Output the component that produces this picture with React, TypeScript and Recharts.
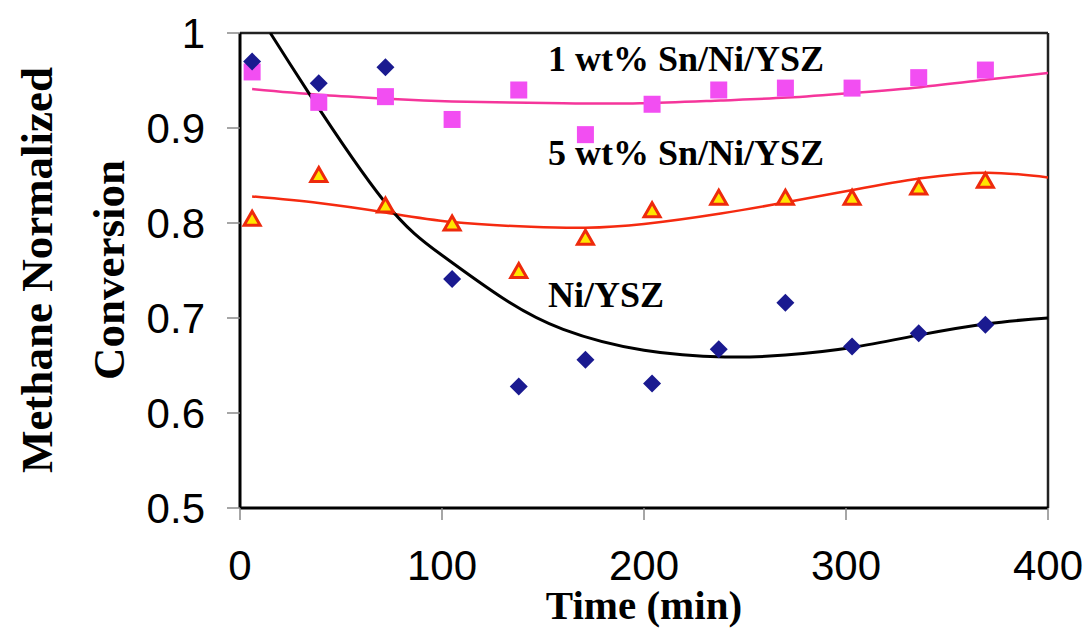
import React from "react";
import {
  ComposedChart,
  XAxis,
  YAxis,
  Scatter,
  Line,
  ReferenceLine,
  Customized,
} from "recharts";

// Measurement times (min)
const times = [6, 39, 72, 105, 138, 171, 204, 237, 270, 303, 336, 369];
// Measured normalized conversion
const niYsz = [0.970, 0.947, 0.964, 0.741, 0.628, 0.656, 0.631, 0.667, 0.716, 0.670, 0.684, 0.693];
const sn1 = [0.959, 0.927, 0.933, 0.909, 0.940, 0.893, 0.925, 0.940, 0.942, 0.942, 0.953, 0.961];
const sn5 = [0.805, 0.851, 0.819, 0.800, 0.750, 0.785, 0.814, 0.827, 0.827, 0.827, 0.838, 0.845];

// Trend curves
const niFitT = [15, 34, 71, 100, 130, 160, 200, 240, 270, 303, 336, 370, 400];
const niFitV = [1.0, 0.937, 0.824, 0.766, 0.721, 0.688, 0.666, 0.659, 0.661, 0.669, 0.682, 0.694, 0.700];
const sn1FitT = [6, 39, 72, 105, 160, 198, 238, 271, 304, 337, 370, 400];
const sn1FitV = [0.941, 0.935, 0.931, 0.928, 0.926, 0.926, 0.929, 0.932, 0.937, 0.943, 0.951, 0.958];
const sn5FitT = [6, 39, 72, 105, 144, 171, 200, 238, 271, 304, 337, 370, 400];
const sn5FitV = [0.828, 0.821, 0.811, 0.801, 0.796, 0.795, 0.799, 0.810, 0.822, 0.835, 0.847, 0.853, 0.848];

const xTicks = [0, 100, 200, 300, 400];
const yTicks = [0.5, 0.6, 0.7, 0.8, 0.9, 1];

const toPts = (xs: number[], ys: number[]) => xs.map((x, i) => ({ x, y: ys[i] }));

const niPts = toPts(times, niYsz);
const sn1Pts = toPts(times, sn1);
const sn5Pts = toPts(times, sn5);
const niFit = toPts(niFitT, niFitV);
const sn1Fit = toPts(sn1FitT, sn1FitV);
const sn5Fit = toPts(sn5FitT, sn5FitV);

const SERIF = "'Liberation Serif', 'Times New Roman', serif";
const SANS = "'Liberation Sans', Arial, sans-serif";

const Diamond = (p: any) => {
  const { cx, cy } = p;
  const r = 9;
  return (
    <polygon
      points={`${cx},${cy - r} ${cx + r},${cy} ${cx},${cy + r} ${cx - r},${cy}`}
      fill="#1a1a90"
    />
  );
};

const Square = (p: any) => {
  const { cx, cy } = p;
  const s = 17;
  return <rect x={cx - s / 2} y={cy - s / 2} width={s} height={s} fill="#f24ef2" />;
};

const Triangle = (p: any) => {
  const { cx, cy } = p;
  const w = 8;
  const h = 7;
  return (
    <polygon
      points={`${cx},${cy - h} ${cx + w},${cy + h} ${cx - w},${cy + h}`}
      fill="#ffe600"
      stroke="#ee2a0c"
      strokeWidth={3}
      strokeLinejoin="miter"
    />
  );
};

const Annotations = () => (
  <g>
    <text x={548} y={71} fontFamily={SERIF} fontWeight="bold" fontSize={36} fill="#000">
      1 wt% Sn/Ni/YSZ
    </text>
    <text x={548} y={165} fontFamily={SERIF} fontWeight="bold" fontSize={36} fill="#000">
      5 wt% Sn/Ni/YSZ
    </text>
    <text x={548} y={307} fontFamily={SERIF} fontWeight="bold" fontSize={36} fill="#000">
      Ni/YSZ
    </text>
    <text
      x={644}
      y={619}
      textAnchor="middle"
      fontFamily={SERIF}
      fontWeight="bold"
      fontSize={41}
      fill="#000"
    >
      Time (min)
    </text>
    <text
      x={52}
      y={270}
      transform="rotate(-90, 52, 270)"
      textAnchor="middle"
      fontFamily={SERIF}
      fontWeight="bold"
      fontSize={45}
      fill="#000"
    >
      <tspan x={52} dy={0}>Methane Normalized</tspan>
      <tspan x={52} dy={72}>Conversion</tspan>
    </text>
  </g>
);

export default function App() {
  return (
    <div style={{ position: "absolute", left: 0, top: 0, background: "#fff" }}>
      <ComposedChart
        width={1089}
        height={629}
        margin={{ top: 33, right: 41, bottom: 0, left: 0 }}
      >
        <XAxis
          type="number"
          dataKey="x"
          domain={[0, 400]}
          ticks={xTicks}
          allowDataOverflow
          height={121}
          tickSize={12}
          tickMargin={30}
          axisLine={{ stroke: "#000", strokeWidth: 3 }}
          tickLine={{ stroke: "#888", strokeWidth: 1.5 }}
          tick={{ fontSize: 42, fill: "#000", fontFamily: SANS }}
        />
        <YAxis
          type="number"
          dataKey="y"
          domain={[0.5, 1]}
          ticks={yTicks}
          allowDataOverflow
          width={240}
          tickSize={13}
          tickMargin={22}
          axisLine={{ stroke: "#000", strokeWidth: 3 }}
          tickLine={{ stroke: "#888", strokeWidth: 1.5 }}
          tick={{ fontSize: 42, fill: "#000", fontFamily: SANS }}
        />
        <ReferenceLine y={1} stroke="#222" strokeWidth={2.5} />
        <ReferenceLine x={400} stroke="#222" strokeWidth={2.5} />
        <Line
          data={sn1Fit}
          dataKey="y"
          type="natural"
          dot={false}
          stroke="#f5359b"
          strokeWidth={2.5}
          isAnimationActive={false}
        />
        <Line
          data={sn5Fit}
          dataKey="y"
          type="natural"
          dot={false}
          stroke="#f52a10"
          strokeWidth={2.5}
          isAnimationActive={false}
        />
        <Line
          data={niFit}
          dataKey="y"
          type="natural"
          dot={false}
          stroke="#000"
          strokeWidth={3}
          isAnimationActive={false}
        />
        <Scatter data={sn1Pts} dataKey="y" shape={Square} isAnimationActive={false} />
        <Scatter data={sn5Pts} dataKey="y" shape={Triangle} isAnimationActive={false} />
        <Scatter data={niPts} dataKey="y" shape={Diamond} isAnimationActive={false} />
        <Customized component={Annotations} />
      </ComposedChart>
    </div>
  );
}
